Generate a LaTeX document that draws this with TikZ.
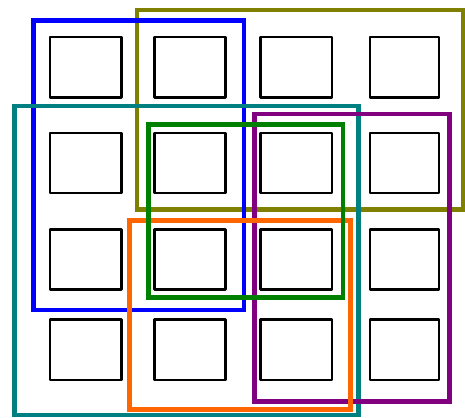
\documentclass[tikz,border=0pt]{standalone}
\definecolor{cblue}{RGB}{0,0,255}
\definecolor{colive}{RGB}{128,128,0}
\definecolor{cteal}{RGB}{0,128,128}
\definecolor{cgreen}{RGB}{0,128,0}
\definecolor{cpurple}{RGB}{128,0,128}
\definecolor{corange}{RGB}{255,102,0}
\begin{document}
\begin{tikzpicture}[x=1pt,y=-1pt,
  cell/.style={draw=black,line width=2.6pt,line join=round},
  group/.style={line width=4.7pt}]
\useasboundingbox (0,0) rectangle (465,417);
% grid cells
\foreach \cx/\cxr [count=\i] in {50/121.5,154.3/225.3,260.5/332,370/439}{
  \foreach \ry/\ryb [count=\j] in {37/97.5,133/193,229.3/289.5,319.5/380}{
    \draw[cell] (\cx,\ry) rectangle (\cxr,\ryb) node[coordinate] (c\i\j) {};
  }
}
% group rectangles
\draw[group,draw=colive] (137,10) rectangle (463,209.5) node[coordinate] (gol) {};
\draw[group,draw=cblue] (33.5,20.8) rectangle (244,310) node[coordinate] (gbl) {};
\draw[group,draw=cteal] (14.5,106) rectangle (358.7,415) node[coordinate] (gte) {};
\draw[group,draw=cpurple] (254.5,114) rectangle (449.7,401.3) node[coordinate] (gpu) {};
\draw[group,draw=corange] (129.7,220.8) rectangle (350.7,409.7) node[coordinate] (gor) {};
\draw[group,draw=cgreen] (148.3,124.7) rectangle (343,297.5) node[coordinate] (ggr) {};
\end{tikzpicture}
\end{document}
